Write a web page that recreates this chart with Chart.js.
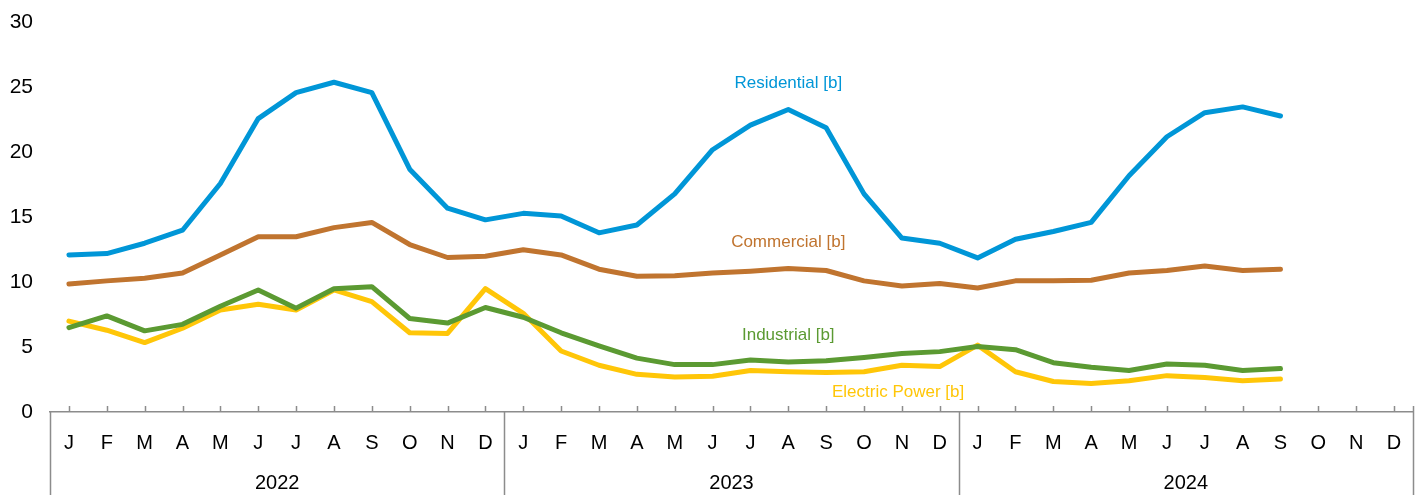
<!DOCTYPE html>
<html><head><meta charset="utf-8">
<script src="https://cdn.jsdelivr.net/npm/chart.js@4.4.1/dist/chart.umd.min.js"></script>
<style>html,body{margin:0;padding:0;background:#fff}</style>
</head><body>
<canvas id="c" width="1423" height="495" style="width:1423px;height:495px;display:block"></canvas>
<script>
const months = ['J','F','M','A','M','J','J','A','S','O','N','D'];
const years = ['2022','2023','2024'];
const categories = years.flatMap(() => months);

const residential = [12.1,12.2,13.0,14.0,17.6,22.6,24.6,25.4,24.6,18.7,15.7,14.8,
  15.3,15.1,13.8,14.4,16.8,20.2,22.1,23.3,21.9,16.8,13.4,13.0,
  11.87,13.3,13.9,14.6,18.2,21.2,23.05,23.5,22.8];
const commercial = [9.85,10.1,10.3,10.7,12.1,13.5,13.5,14.2,14.6,12.9,11.9,12.0,
  12.5,12.1,11.0,10.45,10.5,10.7,10.85,11.05,10.9,10.1,9.7,9.9,
  9.55,10.1,10.1,10.15,10.7,10.9,11.25,10.9,11.0];
const industrial = [6.5,7.4,6.25,6.75,8.15,9.4,8.0,9.5,9.65,7.2,6.85,8.05,
  7.3,6.1,5.1,4.15,3.65,3.65,4.0,3.85,3.95,4.2,4.5,4.65,
  5.05,4.8,3.8,3.45,3.2,3.7,3.6,3.2,3.35];
const electricPower = [7.0,6.3,5.35,6.45,7.85,8.3,7.85,9.4,8.5,6.1,6.05,9.5,
  7.6,4.7,3.6,2.9,2.7,2.75,3.2,3.1,3.05,3.1,3.6,3.5,
  5.15,3.1,2.35,2.2,2.4,2.8,2.65,2.4,2.55];

const yTicks = [0,5,10,15,20,25,30];
const seriesNames = ['Residential [b]','Commercial [b]','Industrial [b]','Electric Power [b]'];
const colors = ['#0096D7','#C0742F','#5B9A32','#FFC608'];
// label anchor in data space: [category index, value]
const labelAnchors = [[19,25.3],[19,13.05],[19,5.9],[21.9,1.5]];

const FONT = "'Liberation Sans', Arial, sans-serif";

const decor = {
  id: 'decor',
  afterDraw(chart) {
    const {ctx, chartArea: ca, scales: {x, y}} = chart;
    const n = categories.length;
    const w = (ca.right - ca.left) / n;
    const base = y.getPixelForValue(0);
    ctx.save();
    ctx.strokeStyle = '#8c8c8c';
    ctx.lineWidth = 1.5;
    ctx.beginPath();
    for (let i = 0; i < n; i++) {
      const px = Math.round(x.getPixelForValue(i)) + 0.5;
      ctx.moveTo(px, base); ctx.lineTo(px, base - 6);
    }
    for (let k = 0; k <= years.length; k++) {
      const px = Math.round(ca.left + k * 12 * w) + 0.5;
      ctx.moveTo(px, base - (k === years.length ? 6 : 0)); ctx.lineTo(px, chart.height);
    }
    ctx.stroke();
    ctx.fillStyle = '#000';
    ctx.font = '20px ' + FONT;
    ctx.textAlign = 'center';
    ctx.textBaseline = 'middle';
    years.forEach((yr, k) => {
      const cx = ca.left + (k * 12 + 6) * w;
      ctx.fillText(yr, cx, 483);
    });
    ctx.font = '17px ' + FONT;
    seriesNames.forEach((name, i) => {
      ctx.fillStyle = colors[i];
      const [ci, v] = labelAnchors[i];
      ctx.fillText(name, x.getPixelForValue(0) + ci * w, y.getPixelForValue(v));
    });
    ctx.restore();
  }
};

const data = [residential, commercial, industrial, electricPower];
new Chart(document.getElementById('c'), {
  type: 'line',
  data: {
    labels: categories,
    datasets: data.map((d, i) => ({
      label: seriesNames[i], data: d, borderColor: colors[i], backgroundColor: colors[i],
      borderWidth: 5, pointRadius: 0, tension: 0, fill: false, borderJoinStyle: 'round', borderCapStyle: 'round'
    }))
  },
  options: {
    responsive: false, animation: false, devicePixelRatio: 1,
    layout: {padding: {top: 22.5, right: 10, left: 0, bottom: 0}},
    plugins: {legend: {display: false}, tooltip: {enabled: false}},
    scales: {
      x: {
        type: 'category', offset: true,
        grid: {display: false, drawTicks: false},
        border: {display: true, color: '#8c8c8c', width: 1.5},
        ticks: {font: {size: 20, family: FONT}, color: '#000', padding: 19, maxRotation: 0, autoSkip: false},
        afterFit(s) { s.height = 83; }
      },
      y: {
        min: 0, max: 30,
        afterBuildTicks(s) { s.ticks = yTicks.map(v => ({value: v})); },
        grid: {display: false, drawTicks: false},
        border: {display: false},
        ticks: {font: {size: 21, family: FONT}, color: '#000', padding: 17},
        afterFit(s) { s.width = 50; s.paddingTop = 0; s.paddingBottom = 0; }
      }
    }
  },
  plugins: [decor]
});
</script>
</body></html>
